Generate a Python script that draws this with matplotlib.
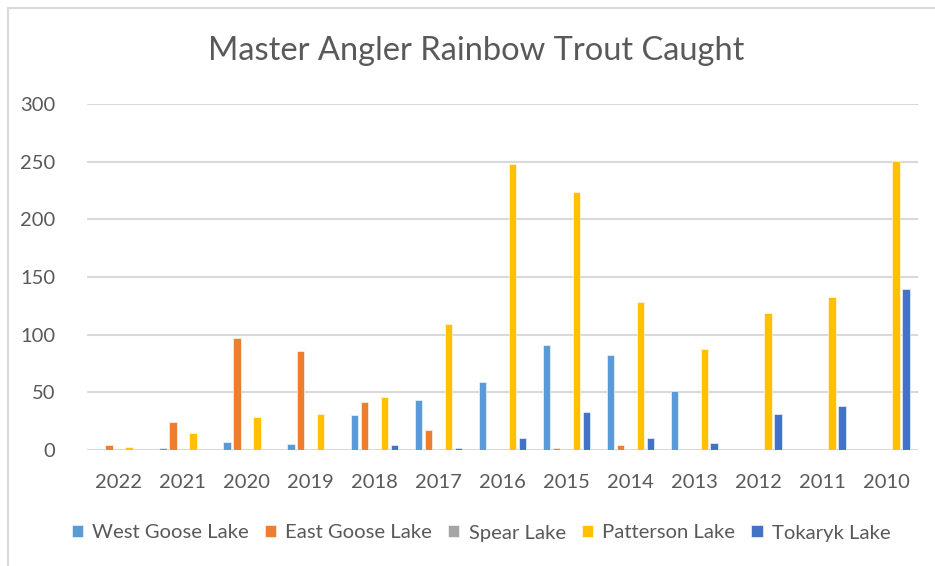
import numpy as np
import matplotlib.pyplot as plt
from matplotlib.patches import Rectangle

# Data
years = ['2022', '2021', '2020', '2019', '2018', '2017', '2016',
         '2015', '2014', '2013', '2012', '2011', '2010']
west_goose = [0, 2, 7, 5, 30, 43, 59, 91, 82, 51, 0, 0, 0]
east_goose = [4, 24, 97, 86, 42, 17, 0, 2, 4, 0, 0, 0, 0]
spear = [0, 0, 0, 0, 0, 0, 0, 0, 0, 0, 0, 0, 0]
patterson = [3, 15, 29, 31, 46, 109, 248, 224, 128, 88, 119, 133, 251]
tokaryk = [0, 0, 0, 0, 4, 2, 10, 33, 10, 6, 31, 38, 140]

series = [
    ('West Goose Lake', west_goose, '#5B9BD5'),
    ('East Goose Lake', east_goose, '#ED7D31'),
    ('Spear Lake', spear, '#A5A5A5'),
    ('Patterson Lake', patterson, '#FFC000'),
    ('Tokaryk Lake', tokaryk, '#4472C4'),
]

plt.rcParams['font.family'] = ['Lato', 'DejaVu Sans']
text_color = '#595959'

W, H = 935, 566
fig = plt.figure(figsize=(W / 100, H / 100), dpi=100)
ax = fig.add_axes([87 / W, (H - 450) / H, (918 - 87) / W, (450 - 104) / H])

# chart border
fig.patches.append(Rectangle((8 / W, -0.01), (W + 5 - 8) / W, (H - 8) / H + 0.01,
                             transform=fig.transFigure, fill=False,
                             edgecolor='#d9d9d9', linewidth=1.5))

x = np.arange(len(years))
step = 0.156
width = 0.117
for i, (name, vals, color) in enumerate(series):
    ax.bar(x + (i - 2) * step, vals, width, color=color, label=name,
           edgecolor='white', linewidth=0.4, zorder=3)

ax.set_xlim(-0.5, len(years) - 0.5)
ax.set_ylim(0, 300)
ax.set_yticks(range(0, 301, 50))
ax.set_xticks(x)
ax.set_xticklabels(years)
ax.grid(axis='y', color='#d9d9d9', linewidth=1.5, zorder=0)
for s in ax.spines.values():
    s.set_visible(False)
ax.tick_params(length=0, labelsize=14.5, labelcolor=text_color)
ax.tick_params(axis='y', pad=23)
ax.tick_params(axis='x', pad=17)

fig.text(476 / W, 1 - 51 / H, 'Master Angler Rainbow Trout Caught',
         ha='center', va='center', fontsize=23.5, color=text_color)

leg = fig.legend(loc='center', bbox_to_anchor=(481 / W, 1 - 533 / H), ncol=5,
                 frameon=False, fontsize=14.6, handlelength=0.55, handleheight=0.55,
                 handletextpad=0.45, columnspacing=0.8)
for t in leg.get_texts():
    t.set_color(text_color)

fig.savefig('out.png', dpi=100)
